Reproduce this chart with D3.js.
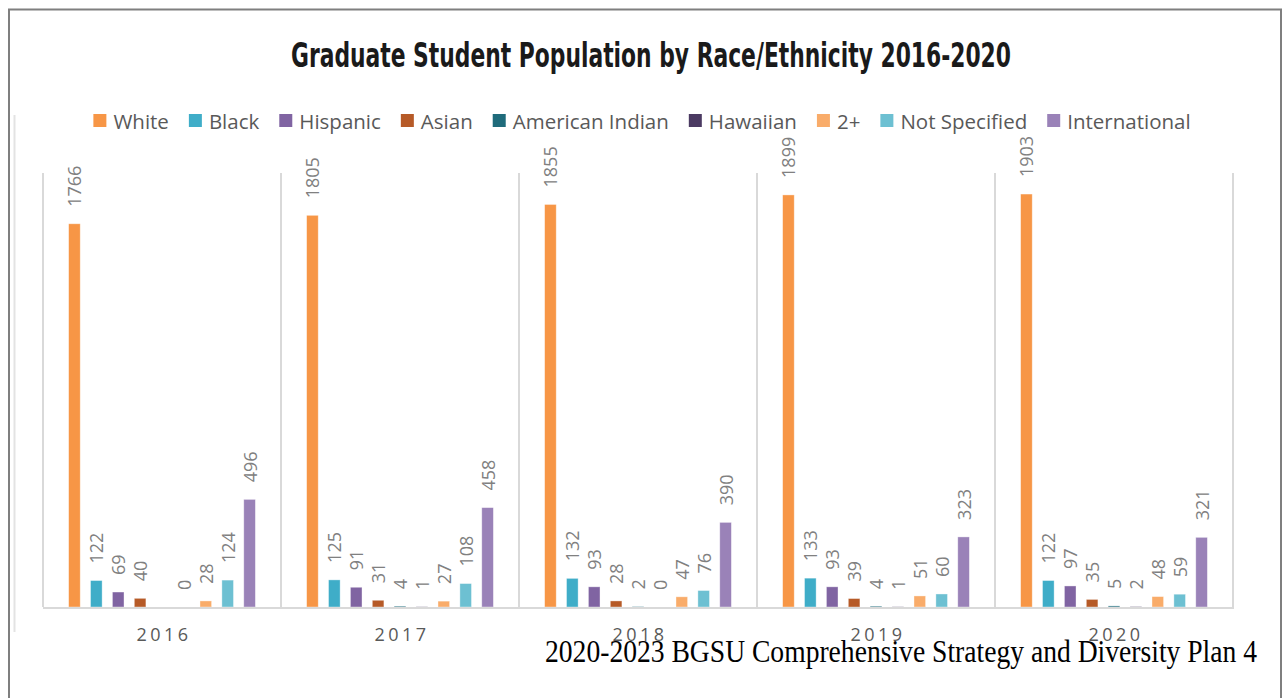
<!DOCTYPE html>
<html>
<head>
<meta charset="utf-8">
<script src="https://cdn.jsdelivr.net/npm/d3@7"></script>
<style>
  body { margin: 0; background: #fff; }
  svg { display: block; }
</style>
</head>
<body>
<svg id="chart" width="1283" height="698"></svg>
<script>
  const years = ["2016", "2017", "2018", "2019", "2020"];

  const series_names = ["White", "Black", "Hispanic", "Asian", "American Indian",
                        "Hawaiian", "2+", "Not Specified", "International"];

  const series_colors = ["#F79646", "#3FADC8", "#8064A2", "#B65A27", "#1F6B7B",
                         "#4B3A62", "#F9AC6A", "#6DC0D2", "#9A82B8"];

  // one array per series, one value per year (null = no label / no bar)
  const white           = [1766, 1805, 1855, 1899, 1903];
  const black           = [122, 125, 132, 133, 122];
  const hispanic        = [69, 91, 93, 93, 97];
  const asian           = [40, 31, 28, 39, 35];
  const american_indian = [null, 4, 2, 4, 5];
  const hawaiian        = [0, 1, 0, 1, 2];
  const two_plus        = [28, 27, 47, 51, 48];
  const not_specified   = [124, 108, 76, 60, 59];
  const international   = [496, 458, 390, 323, 321];

  const series_values = [white, black, hispanic, asian, american_indian,
                         hawaiian, two_plus, not_specified, international];

  const svg = d3.select('#chart');

  // outer frame
  svg.append('path')
    .attr('d', 'M9,698 V9.5 H1281 V698')
    .attr('fill', 'none')
    .attr('stroke', '#7f7f7f')
    .attr('stroke-width', 2);
  svg.append('line')
    .attr('x1', 14.5).attr('x2', 14.5).attr('y1', 115).attr('y2', 632)
    .attr('stroke', '#e3e3e3').attr('stroke-width', 2);

  // title
  svg.append('text')
    .attr('x', 651).attr('y', 67)
    .attr('text-anchor', 'middle')
    .attr('textLength', 720)
    .attr('lengthAdjust', 'spacingAndGlyphs')
    .style('font-family', "'Liberation Sans Narrow', 'DejaVu Sans Condensed', 'Liberation Sans', sans-serif")
    .style('font-weight', 'bold')
    .style('font-size', '34px')
    .style('fill', '#1a1a1a')
    .text('Graduate Student Population by Race/Ethnicity 2016-2020');

  // scales
  const x0 = d3.scaleBand().domain(years).range([43, 1233]).padding(0);
  const x1 = d3.scaleBand().domain(series_names).range([0, x0.bandwidth()])
    .paddingInner(0.47).paddingOuter(1.17);
  const y = d3.scaleLinear().domain([0, 2000]).range([607, 173]);

  // category separators
  const seps = years.map(function (yr) { return x0(yr); }).concat([x0.range()[1]]);
  svg.append('g').selectAll('line')
    .data(seps)
    .enter().append('line')
    .attr('x1', function (d) { return d; })
    .attr('x2', function (d) { return d; })
    .attr('y1', y(2000))
    .attr('y2', y(0))
    .attr('stroke', '#d9d9d9')
    .attr('stroke-width', 2);

  // bars and labels
  const bars = svg.append('g');
  const labels = svg.append('g');
  let i, j;
  for (i = 0; i < series_names.length; i++) {
    for (j = 0; j < years.length; j++) {
      const v = series_values[i][j];
      if (v == null) continue;
      const bx = x0(years[j]) + x1(series_names[i]);
      bars.append('rect')
        .attr('x', bx)
        .attr('y', y(v))
        .attr('width', x1.bandwidth())
        .attr('height', y(0) - y(v))
        .attr('fill', series_colors[i])
        .attr('stroke', '#ffffff')
        .attr('stroke-opacity', 0.5)
        .attr('stroke-width', 0.75);
      const cx = bx + x1.bandwidth() / 2;
      const ty = y(v) - 17;
      labels.append('text')
        .attr('transform', 'translate(' + cx + ',' + ty + ') rotate(-90)')
        .attr('dominant-baseline', 'central')
        .style('font-family', "'Open Sans', sans-serif")
        .style('font-size', '18px')
        .style('fill', '#808080')
        .text(v);
    }
  }

  // baseline
  svg.append('line')
    .attr('x1', 43).attr('x2', 1234)
    .attr('y1', y(0) + 1).attr('y2', y(0) + 1)
    .attr('stroke', '#d9d9d9').attr('stroke-width', 2);

  // category labels
  svg.append('g').selectAll('text')
    .data(years)
    .enter().append('text')
    .attr('x', function (d) { return x0(d) + x0.bandwidth() / 2 + 2; })
    .attr('y', 641)
    .attr('text-anchor', 'middle')
    .style('font-family', "'Open Sans', sans-serif")
    .style('font-size', '18px')
    .style('letter-spacing', '3.5px')
    .style('fill', '#595959')
    .text(function (d) { return d; });

  // legend
  const legend = svg.append('g');
  let lx = 0;
  for (i = 0; i < series_names.length; i++) {
    const item = legend.append('g').attr('transform', 'translate(' + lx + ',0)');
    item.append('rect')
      .attr('x', 0).attr('y', -7)
      .attr('width', 13).attr('height', 13)
      .attr('fill', series_colors[i]);
    const t = item.append('text')
      .attr('x', 20).attr('y', 0)
      .attr('dominant-baseline', 'central')
      .style('font-family', "'Open Sans', sans-serif")
      .style('font-size', '20.5px')
      .style('fill', '#595959')
      .text(series_names[i]);
    lx += 20 + t.node().getComputedTextLength() + 20;
  }
  const legend_w = lx - 20;
  legend.attr('transform', 'translate(' + (642 - legend_w / 2) + ',121)');

  // footer
  svg.append('text')
    .attr('x', 545).attr('y', 662)
    .attr('textLength', 712)
    .attr('lengthAdjust', 'spacingAndGlyphs')
    .style('font-family', "'Liberation Serif', 'DejaVu Serif', serif")
    .style('font-size', '32px')
    .style('fill', '#000')
    .text('2020-2023 BGSU Comprehensive Strategy and Diversity Plan 4');
</script>
</body>
</html>
